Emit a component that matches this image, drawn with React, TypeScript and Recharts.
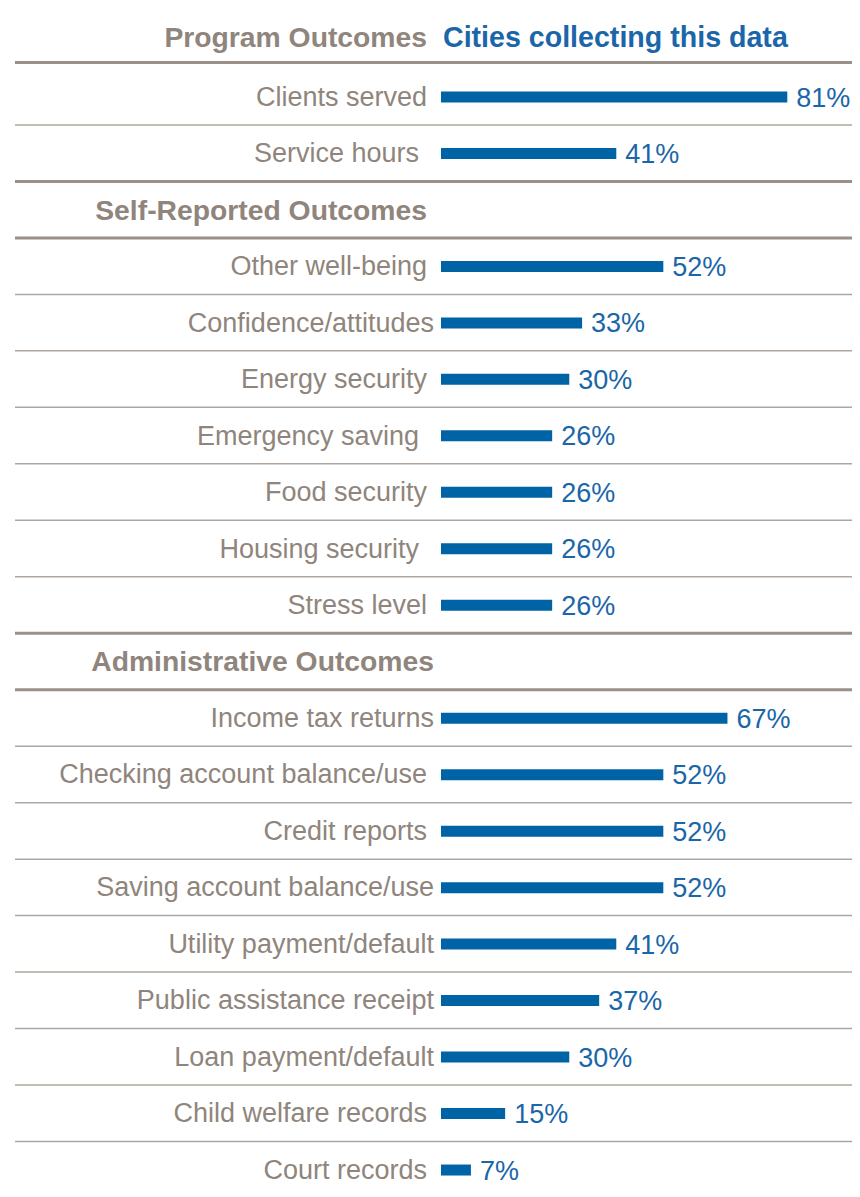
import React from 'react';
import { BarChart, Bar, XAxis, YAxis, LabelList, ReferenceLine } from 'recharts';

const categories = [
  'Program Outcomes',
  'Clients served',
  'Service hours',
  'Self-Reported Outcomes',
  'Other well-being',
  'Confidence/attitudes',
  'Energy security',
  'Emergency saving',
  'Food security',
  'Housing security',
  'Stress level',
  'Administrative Outcomes',
  'Income tax returns',
  'Checking account balance/use',
  'Credit reports',
  'Saving account balance/use',
  'Utility payment/default',
  'Public assistance receipt',
  'Loan payment/default',
  'Child welfare records',
  'Court records',
];

const values: (number | null)[] = [
  null, 81, 41,
  null, 52, 33, 30, 26, 26, 26, 26,
  null, 67, 52, 52, 52, 41, 37, 30, 15, 7,
];

const headerRows = ['Program Outcomes', 'Self-Reported Outcomes', 'Administrative Outcomes'];
const columnTitle = 'Cities collecting this data';
// separators drawn thicker (after header rows and at section ends)
const thickAfter = ['Program Outcomes', 'Service hours', 'Self-Reported Outcomes', 'Stress level', 'Administrative Outcomes'];
// labels set slightly further right / left in the original layout
const labelsNudgedRight = [
  'Confidence/attitudes', 'Income tax returns', 'Saving account balance/use',
  'Utility payment/default', 'Public assistance receipt', 'Loan payment/default',
  'Administrative Outcomes',
];
const labelsNudgedLeft = ['Service hours', 'Emergency saving', 'Housing security'];

const data = categories.map((label, i) => ({ label, value: values[i] }));

const GREY = '#8f857c';
const BLUE = '#0063a6';
const BLUE_TEXT = '#1a66a8';
const FONT = '"Liberation Sans", Arial, Helvetica, sans-serif';

const Tick = (props: any) => {
  const { x, y, payload } = props;
  const label: string = payload.value;
  const isHeader = headerRows.includes(label);
  const dx = labelsNudgedRight.includes(label) ? 7 : labelsNudgedLeft.includes(label) ? -8 : 0;
  const dy = label === headerRows[0] ? -3 : 0;
  return (
    <g>
      <text
        x={x + dx}
        y={y + dy}
        textAnchor="end"
        dominantBaseline="central"
        fontFamily={FONT}
        fontSize={isHeader ? 28.3 : 27}
        fontWeight={isHeader ? 700 : 400}
        fill={GREY}
      >
        {label}
      </text>
      {label === headerRows[0] && (
        <text
          x={x + 16}
          y={y + dy}
          textAnchor="start"
          dominantBaseline="central"
          fontFamily={FONT}
          fontSize={28.6}
          fontWeight={700}
          fill={BLUE_TEXT}
        >
          {columnTitle}
        </text>
      )}
    </g>
  );
};

const SepLine = (thick: boolean, dy: number) => (props: any) => {
  const { y1 } = props;
  return (
    <line
      x1={7}
      x2={852}
      y1={y1 + dy}
      y2={y1 + dy}
      stroke={thick ? '#9a9087' : '#aea69f'}
      strokeWidth={thick ? 3 : 1.5}
    />
  );
};

export default function App() {
  return (
    <div style={{ width: 852, height: 1190 }}>
      <BarChart
        width={852}
        height={1190}
        data={data}
        layout="vertical"
        margin={{ top: 4, right: 0, bottom: 0, left: 0 }}
        barCategoryGap={0}
      >
        <XAxis type="number" domain={[0, 98]} hide />
        <YAxis
          type="category"
          dataKey="label"
          width={433}
          axisLine={false}
          tickLine={false}
          tickSize={0}
          tickMargin={14}
          interval={0}
          tick={<Tick />}
        />
        {categories.slice(0, -1).map((c, i) => (
          <ReferenceLine
            key={c}
            y={c}
            position="end"
            ifOverflow="visible"
            shape={SepLine(thickAfter.includes(c), i === 0 ? -6 : 0)}
          />
        ))}
        <Bar dataKey="value" fill={BLUE} barSize={11} isAnimationActive={false}>
          <LabelList
            dataKey="value"
            position="right"
            offset={9}
            fill={BLUE_TEXT}
            fontFamily={FONT}
            fontSize={27}
            formatter={(v: any) => (v == null ? '' : `${v}%`)}
          />
        </Bar>
      </BarChart>
    </div>
  );
}
